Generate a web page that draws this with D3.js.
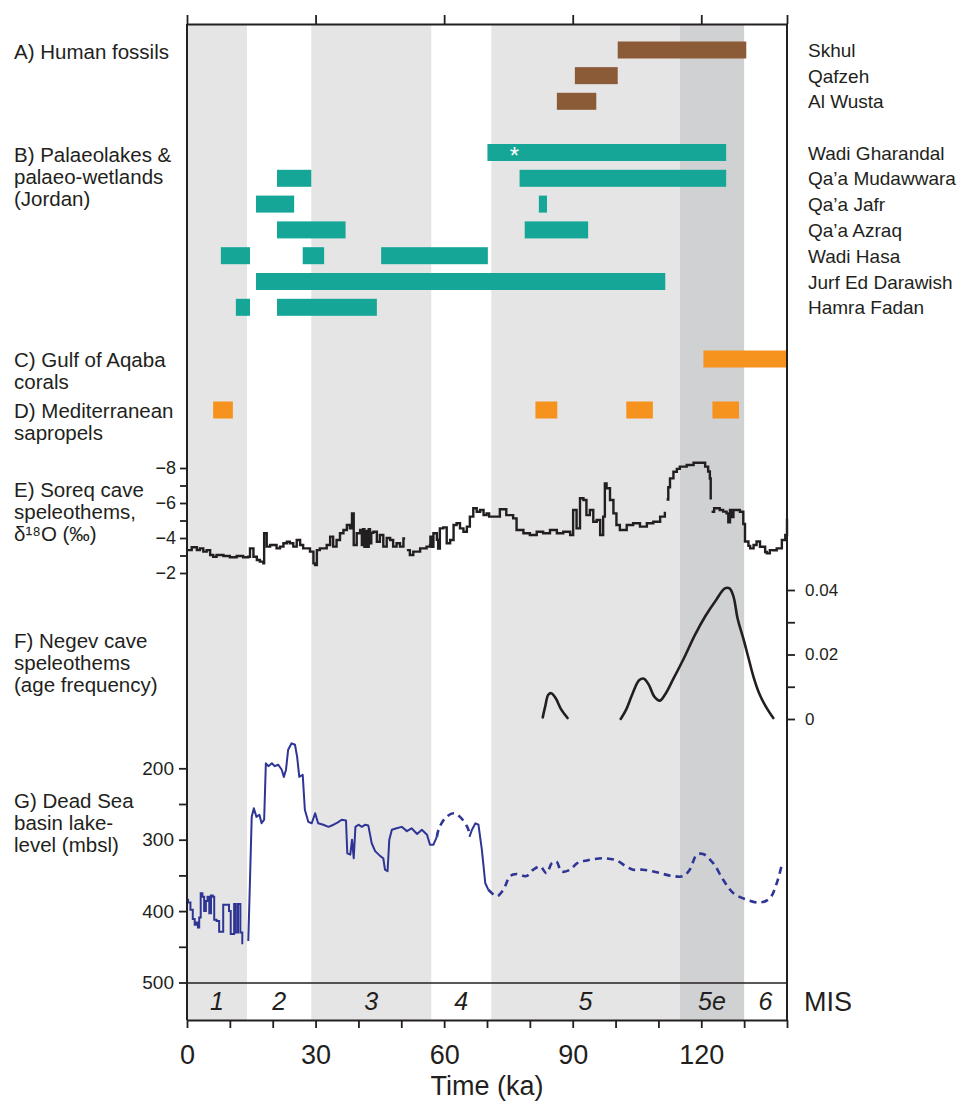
<!DOCTYPE html>
<html>
<head>
<meta charset="utf-8">
<script src="https://cdn.jsdelivr.net/npm/d3@7"></script>
<style>
  html, body { margin: 0; padding: 0; background: #ffffff; }
  svg text { font-family: "Liberation Sans", Arial, Helvetica, sans-serif; fill: #231f20; }
  .narrow { font-family: "Liberation Sans Narrow", "Liberation Sans", Arial, sans-serif; }
</style>
</head>
<body>
<svg id="chart" width="969" height="1108"></svg>
<script>
// ---------------- data ----------------
const ageTicks = [0, 30, 60, 90, 120];

// Marine isotope stages (ka)
const misLabels = ["1", "2", "3", "4", "5", "5e", "6"];
const misStart  = [0, 14, 29, 57, 71, 115, 130];
const misEnd    = [14, 29, 57, 71, 115, 130, 140];
const misShade  = ["light", "none", "light", "none", "light", "dark", "none"];

// A) Human fossils (ka)
const fossilSites = ["Skhul", "Qafzeh", "Al Wusta"];
const fossilStart = [100.5, 90.5, 86.3];
const fossilEnd   = [130.5, 100.5, 95.5];

// B) Palaeolakes & palaeo-wetlands (ka)
const lakeSites = ["Wadi Gharandal", "Qa\u2019a Mudawwara", "Qa\u2019a Jafr", "Qa\u2019a Azraq",
                   "Wadi Hasa", "Jurf Ed Darawish", "Hamra Fadan"];
const lakeSiteOf = [0, 1, 1, 2, 2, 3, 3, 4, 4, 4, 5, 6, 6];
const lakeStart  = [70.1, 21, 77.6, 16.1, 82.1, 21, 78.8, 7.9, 27, 45.3, 16.1, 11.4, 21];
const lakeEnd    = [125.8, 29, 125.8, 25, 84, 37, 93.6, 14.7, 32, 70.2, 111.6, 14.7, 44.3];
const gharandalMarkAge = 76.4;

// C) Gulf of Aqaba corals, D) Mediterranean sapropels (ka)
const coralStart = [120.5];
const coralEnd   = [140];
const sapropelStart = [6.1, 81.3, 102.5, 122.6];
const sapropelEnd   = [10.7, 86.4, 108.7, 128.8];

// E) Soreq cave speleothem d18O (ka, permil); null marks a break in the record
const soreqSeries = [
  [0.0,-3.31],[0.3,-3.31],[1.1,-3.47],[2.3,-3.31],[3.0,-3.41],[3.8,-3.22],[4.6,-3.31],[5.4,-3.03],
  [6.1,-2.93],[6.9,-3.03],[8.5,-2.97],[10.0,-2.90],[11.6,-2.97],[13.1,-2.90],[14.3,-2.93],[14.7,-3.41],
  [15.5,-2.93],[16.3,-2.74],[17.0,-2.65],[17.8,-2.55],[18.0,-4.27],[18.6,-3.51],[19.4,-3.60],[20.9,-3.41],
  [21.7,-3.51],[22.5,-3.70],[23.3,-3.79],[24.0,-3.70],[24.8,-3.51],[25.6,-3.89],[26.4,-3.60],[27.1,-3.41],
  [28.7,-3.22],[29.5,-2.55],[29.9,-2.46],[30.3,-3.31],[31.0,-3.41],[32.6,-3.60],[33.4,-4.08],[34.1,-3.51],
  [34.9,-3.89],[35.7,-4.27],[36.5,-4.46],[37.3,-4.74],[38.0,-4.55],[38.5,-5.40],[38.9,-3.60],[39.6,-4.27],
  [40.4,-4.46],[40.8,-3.60],[41.1,-4.50],[41.4,-3.50],[41.8,-4.40],[42.1,-3.50],[42.4,-4.50],[42.7,-3.70],
  [43.0,-4.30],[43.5,-4.36],[44.3,-3.79],[45.0,-4.17],[45.8,-3.51],[46.6,-4.00],[47.4,-3.89],[48.1,-3.51],
  [48.9,-3.70],[49.7,-3.51],[50.5,-3.98],[50.9,-3.98],[51.1,null],
  [51.3,-3.31],[52.0,-3.03],[52.8,-3.22],[54.4,-3.41],[55.9,-3.51],[56.7,-3.60],[56.8,-4.08],[57.1,-3.50],
  [57.5,-4.27],[58.3,-3.90],[58.6,-3.40],[59.0,-4.55],[59.8,-4.61],[60.6,-3.70],[61.4,-3.89],[62.2,-4.74],
  [62.9,-4.84],[63.7,-4.55],[64.5,-4.36],[65.3,-4.65],[66.0,-5.22],[66.8,-5.70],[67.6,-5.50],[68.4,-5.60],
  [69.2,-5.31],[69.9,-5.41],[70.5,-5.22],[71.5,-5.22],[73.0,-5.64],[74.5,-5.31],[76.1,-5.12],[76.9,-4.46],
  [78.5,-4.27],[80.0,-4.17],[81.6,-4.36],[83.1,-4.27],[84.7,-4.46],[86.3,-4.27],[87.8,-4.36],[89.4,-4.17],
  [90.1,-5.60],[90.9,-4.55],[91.7,-6.27],[92.5,-6.17],[93.2,-5.31],[94.0,-5.60],[94.8,-4.93],[95.6,-5.03],
  [96.4,-4.17],[97.1,-5.22],[97.5,-7.12],[97.9,-6.84],[98.7,-6.17],[99.5,-5.41],[100.2,-4.74],[101.0,-4.46],
  [102.6,-4.74],[104.1,-4.84],[105.7,-4.65],[107.3,-4.84],[108.8,-4.93],[110.4,-5.22],[111.5,-5.50],[111.7,null],
  [111.9,-6.20],[112.3,-6.90],[112.7,-7.41],[113.5,-7.79],[114.3,-7.95],[115.0,-8.08],[116.6,-8.17],[118.2,-8.30],
  [119.7,-8.30],[120.9,-8.08],[121.6,-7.80],[122.0,-7.40],[122.2,-6.20],[122.3,null],
  [122.4,-5.50],[123.0,-5.70],[123.6,-5.70],[124.3,-5.60],[125.1,-5.51],[125.9,-5.41],[126.3,-4.90],[126.7,-5.60],
  [127.1,-5.20],[127.5,-5.60],[128.3,-5.60],[129.0,-5.50],[129.8,-4.80],[130.2,-3.80],[131.0,-3.55],[131.4,-3.41],
  [132.2,-3.60],[132.9,-3.80],[133.7,-3.50],[134.5,-3.51],[134.9,-3.20],[135.3,-3.12],[136.0,-3.31],[136.8,-3.30],
  [137.6,-3.41],[138.8,-3.89],[139.6,-4.17],[140.0,-5.10]
];

// F) Negev cave speleothems, age frequency
const negevEarly = [[83.0,0.0005],[83.6,0.004],[84.3,0.0075],[85.0,0.008],[86.0,0.0065],[87.3,0.003],[88.8,0.0003]];
const negevLate  = [[101.2,0.0],[102.5,0.003],[104.0,0.008],[105.5,0.012],[106.6,0.0125],[107.8,0.0105],
                    [109.0,0.007],[110.3,0.0057],[111.5,0.0075],[113.5,0.0125],[116.0,0.019],[118.5,0.026],
                    [121.0,0.032],[123.5,0.037],[125.5,0.0405],[126.6,0.0405],[127.5,0.038],[128.5,0.031],
                    [129.8,0.025],[131.0,0.019],[132.2,0.013],[133.5,0.008],[135.0,0.004],[136.8,0.0003]];

// G) Dead Sea basin lake level (m below sea level)
const deadSeaHoloceneSolid = [
  [0.0,384],[0.5,388],[1.1,398],[1.6,411],[2.0,419],[2.4,416],[2.7,423],[3.0,409],[3.4,375],[3.8,380],
  [4.2,400],[4.6,386],[5.0,380],[5.4,403],[5.8,378],[6.2,380],[6.5,412],[7.3,414],[7.7,429],[8.3,429],
  [8.6,391],[9.6,391],[10.0,400],[10.4,432],[10.8,432],[11.2,390],[11.6,430],[12.2,390],[12.7,430],[13.1,445]
];
const deadSeaLisanSolid = [
  [14.3,442],[14.7,356],[15.1,268],[15.6,256],[16.2,268],[16.9,265],[17.4,277],[18.0,272],[18.4,193],
  [19.0,197],[19.8,193],[20.5,197],[21.3,195],[22.1,202],[22.6,212],[23.1,202],[23.6,174],[24.4,165],
  [25.2,167],[25.7,184],[26.2,212],[27.0,209],[27.5,258],[28.3,275],[29.1,277],[29.9,263],[30.6,277],
  [31.8,279],[33.0,282],[34.2,279],[35.1,276],[36.1,272],[37.1,273],[37.4,319],[38.1,321],[38.5,300],
  [38.9,326],[39.3,282],[40.0,279],[40.8,282],[41.6,279],[42.3,280],[43.1,305],[43.9,316],[45.1,323],
  [45.8,326],[46.2,342],[46.8,344],[47.2,300],[47.8,286],[48.9,284],[50.1,282],[51.3,288],[52.4,284],
  [53.7,292],[54.8,286],[56.0,293],[56.7,307],[57.5,307],[58.3,296]
];
const deadSeaEarlyInferred = [[58.3,296],[58.7,286],[60.2,270],[62.2,263],[63.7,268],[65.3,281],[66.0,292]];
const deadSeaMidSolid = [[65.9,296],[66.5,286],[67.3,277],[68.0,279],[68.8,314],[69.6,361],[70.3,370]];
const deadSeaLateInferred = [
  [70.3,370],[72.3,379],[73.8,370],[75.4,351],[76.9,348],[79.2,351],[80.8,342],[82.4,337.5],[83.9,347],
  [85.1,333],[86.2,330.5],[87.4,344.5],[89.4,342],[91.0,333],[93.3,329],[97.1,326],[100.2,329],[102.5,337.5],
  [104.1,342],[106.4,342],[108.8,344.5],[111.1,348],[113.4,351],[115.8,351],[117.3,342],[118.9,321.6],
  [120.4,320],[122.8,333],[125.1,356],[127.5,375],[130.6,384],[133.7,388],[136.0,382],[137.6,361],[138.8,335]
];

// Panel captions (left)
const panelTitles = [
  ["A) Human fossils"],
  ["B) Palaeolakes &", "palaeo-wetlands", "(Jordan)"],
  ["C) Gulf of Aqaba", "corals"],
  ["D) Mediterranean", "sapropels"],
  ["E) Soreq cave", "speleothems,", "\u03B4\u00B9\u2078O (\u2030)"],
  ["F) Negev cave", "speleothems", "(age frequency)"],
  ["G) Dead Sea", "basin lake-", "level (mbsl)"]
];

// ---------------- layout ----------------
const ink = "#231f20";
const svg = d3.select("#chart");
const plotTop = 24, plotBottom = 1020, misLineY = 983;
const x = d3.scaleLinear().domain([0, 140]).range([187, 787]);
const barH = 17;

const fossilY = d3.scalePoint().domain(fossilSites).range([50, 101.3]);
const lakeY   = d3.scalePoint().domain(lakeSites).range([152.5, 307.3]);
const coralRowY = 359, sapropelRowY = 410;
const soreqY  = d3.scaleLinear().domain([-8, -2]).range([468, 573]);
const negevY  = d3.scaleLinear().domain([0, 0.04]).range([719, 590]);
const deadY   = d3.scaleLinear().domain([200, 500]).range([768.3, 982.5]);

const colors = { light: "#e5e5e6", dark: "#d0d1d3", fossil: "#8b5b37", lake: "#15a697",
                 orange: "#f6921e", blue: "#2e3595" };

// MIS background bands
svg.append("g").selectAll("rect")
  .data(misLabels.map((m, i) => ({ m, s: misStart[i], e: misEnd[i], shade: misShade[i] }))
              .filter(d => d.shade !== "none"))
  .join("rect")
  .attr("x", d => x(d.s)).attr("width", d => x(d.e) - x(d.s))
  .attr("y", plotTop).attr("height", plotBottom - plotTop)
  .attr("fill", d => colors[d.shade]);

// A) fossils
svg.append("g").selectAll("rect")
  .data(fossilSites.map((s, i) => ({ s, a: fossilStart[i], b: fossilEnd[i] })))
  .join("rect")
  .attr("x", d => x(d.a)).attr("width", d => x(d.b) - x(d.a))
  .attr("y", d => fossilY(d.s) - barH / 2).attr("height", barH)
  .attr("fill", colors.fossil);

// B) palaeolakes
svg.append("g").selectAll("rect")
  .data(lakeSiteOf.map((k, i) => ({ s: lakeSites[k], a: lakeStart[i], b: lakeEnd[i] })))
  .join("rect")
  .attr("x", d => x(d.a)).attr("width", d => x(d.b) - x(d.a))
  .attr("y", d => lakeY(d.s) - barH / 2).attr("height", barH)
  .attr("fill", colors.lake);
svg.append("text")
  .attr("x", x(gharandalMarkAge)).attr("y", lakeY(lakeSites[0]) + 11)
  .attr("text-anchor", "middle").style("font-size", "24px").style("fill", "#ffffff")
  .text("*");

// C) corals and D) sapropels
svg.append("g").selectAll("rect")
  .data(coralStart.map((a, i) => ({ a, b: coralEnd[i] })))
  .join("rect")
  .attr("x", d => x(d.a)).attr("width", d => x(d.b) - x(d.a))
  .attr("y", coralRowY - barH / 2).attr("height", barH)
  .attr("fill", colors.orange);
svg.append("g").selectAll("rect")
  .data(sapropelStart.map((a, i) => ({ a, b: sapropelEnd[i] })))
  .join("rect")
  .attr("x", d => x(d.a)).attr("width", d => x(d.b) - x(d.a))
  .attr("y", sapropelRowY - barH / 2).attr("height", barH)
  .attr("fill", colors.orange);

// E) Soreq record
const soreqLine = d3.line()
  .defined(d => d[1] !== null)
  .x(d => x(d[0])).y(d => soreqY(d[1]))
  .curve(d3.curveStepAfter);
svg.append("path").datum(soreqSeries)
  .attr("d", soreqLine).attr("fill", "none")
  .attr("stroke", ink).attr("stroke-width", 2.4).attr("stroke-linejoin", "miter");

// F) Negev age frequency
const negevLine = d3.line().x(d => x(d[0])).y(d => negevY(d[1])).curve(d3.curveCatmullRom.alpha(0.5));
[negevEarly, negevLate].forEach(seg => {
  svg.append("path").datum(seg).attr("d", negevLine)
    .attr("fill", "none").attr("stroke", ink).attr("stroke-width", 2.6).attr("stroke-linecap", "round");
});

// G) Dead Sea lake level
const deadStep = d3.line().x(d => x(d[0])).y(d => deadY(d[1])).curve(d3.curveStep);
const deadLine = d3.line().x(d => x(d[0])).y(d => deadY(d[1]));
const deadSmooth = d3.line().x(d => x(d[0])).y(d => deadY(d[1])).curve(d3.curveCatmullRom.alpha(0.5));
svg.append("path").datum(deadSeaHoloceneSolid).attr("d", deadStep)
  .attr("fill", "none").attr("stroke", colors.blue).attr("stroke-width", 2);
[deadSeaLisanSolid, deadSeaMidSolid].forEach(seg => {
  svg.append("path").datum(seg).attr("d", deadLine)
    .attr("fill", "none").attr("stroke", colors.blue).attr("stroke-width", 2).attr("stroke-linejoin", "round");
});
[deadSeaEarlyInferred, deadSeaLateInferred].forEach(seg => {
  svg.append("path").datum(seg).attr("d", deadSmooth)
    .attr("fill", "none").attr("stroke", colors.blue).attr("stroke-width", 2.6)
    .attr("stroke-dasharray", "7,5");
});

// frame lines
svg.append("line").attr("x1", x(0)).attr("x2", x(0)).attr("y1", plotTop).attr("y2", plotBottom)
  .attr("stroke", ink).attr("stroke-width", 2);
svg.append("line").attr("x1", x(140)).attr("x2", x(140)).attr("y1", plotTop).attr("y2", plotBottom)
  .attr("stroke", ink).attr("stroke-width", 2);
svg.append("line").attr("x1", x(0)).attr("x2", x(140)).attr("y1", misLineY).attr("y2", misLineY)
  .attr("stroke", ink).attr("stroke-width", 1.6);

function styleAxis(g, fontSize) {
  g.selectAll("path.domain").attr("stroke", ink).attr("stroke-width", 2);
  g.selectAll(".tick line").attr("stroke", ink).attr("stroke-width", 1.8);
  g.selectAll(".tick text").attr("class", "narrow").style("font-size", fontSize + "px")
    .style("fill", ink).attr("fill", ink);
}

// top axis
const topAxis = svg.append("g").attr("transform", `translate(0,${plotTop})`)
  .call(d3.axisTop(x).tickValues([0, 30, 60, 90, 120, 140]).tickSize(9).tickSizeOuter(0).tickFormat(""));
styleAxis(topAxis, 10);

// bottom time axis
const bottomAxis = svg.append("g").attr("transform", `translate(0,${plotBottom})`)
  .call(d3.axisBottom(x).tickValues(d3.range(0, 141, 10)).tickSize(8).tickSizeOuter(0)
    .tickPadding(12).tickFormat(d => ageTicks.includes(d) ? d : ""));
styleAxis(bottomAxis, 27);
bottomAxis.selectAll("text").attr("dy", "0.9em");

svg.append("text").attr("class", "narrow")
  .attr("x", x(70)).attr("y", 1095).attr("text-anchor", "middle")
  .style("font-size", "27px").text("Time (ka)");

// Soreq axis
const soreqAxis = svg.append("g").attr("transform", `translate(${x(0)},0)`)
  .call(d3.axisLeft(soreqY).tickValues([-8, -7, -6, -5, -4, -3, -2]).tickSize(7).tickSizeOuter(0)
    .tickPadding(4).tickFormat(d => d % 2 === 0 ? d3.format("d")(d) : ""));
styleAxis(soreqAxis, 18);
soreqAxis.select("path.domain").remove();

// Negev axis
const negevAxis = svg.append("g").attr("transform", `translate(${x(140)},0)`)
  .call(d3.axisRight(negevY).tickValues([0, 0.01, 0.02, 0.03, 0.04]).tickSize(8).tickSizeOuter(0)
    .tickPadding(10).tickFormat(d => Math.round(d * 100) % 2 === 0 ? (d === 0 ? "0" : d3.format(".2f")(d)) : ""));
styleAxis(negevAxis, 17);
negevAxis.select("path.domain").remove();

// Dead Sea axis
const deadAxis = svg.append("g").attr("transform", `translate(${x(0)},0)`)
  .call(d3.axisLeft(deadY).tickValues(d3.range(200, 501, 50)).tickSize(8).tickSizeOuter(0)
    .tickPadding(5).tickFormat(d => d % 100 === 0 ? d : ""));
styleAxis(deadAxis, 19);
deadAxis.select("path.domain").remove();

// MIS stage labels
svg.append("g").selectAll("text")
  .data(misLabels.map((m, i) => ({ m, s: misStart[i], e: misEnd[i] })))
  .join("text")
  .attr("class", "narrow")
  .attr("x", d => x((d.s + d.e) / 2)).attr("y", 1010)
  .attr("text-anchor", "middle").style("font-size", "25px").style("font-style", "italic")
  .text(d => d.m);
svg.append("text").attr("class", "narrow").attr("x", 804).attr("y", 1011)
  .style("font-size", "27px").text("MIS");

// site names (right)
const rightLabels = svg.append("g").style("font-size", "19px");
fossilSites.forEach(s => rightLabels.append("text").attr("x", 808).attr("y", fossilY(s) + 7).text(s));
lakeSites.forEach(s => rightLabels.append("text").attr("x", 808).attr("y", lakeY(s) + 7).text(s));

// panel captions (left)
const titleBaselines = [59, 162, 367, 418, 497, 648, 808];
const titleG = svg.append("g").style("font-size", "20.5px");
panelTitles.forEach((lines, i) => {
  const t = titleG.append("text").attr("x", 14).attr("y", titleBaselines[i]);
  lines.forEach((ln, j) => t.append("tspan").attr("x", 14).attr("dy", j === 0 ? 0 : 22).text(ln));
});
</script>
</body>
</html>
